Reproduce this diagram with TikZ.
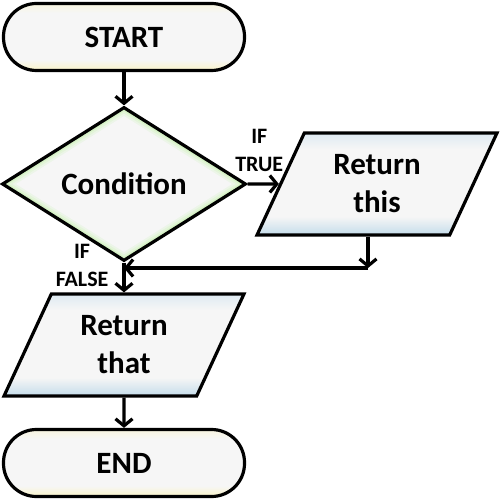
\documentclass[tikz,border=0pt]{standalone}
\usepackage{fontspec}
\setmainfont{Carlito}
\usepackage{tikz}
\usetikzlibrary{calc, arrows.meta, shapes.geometric}
\definecolor{paper}{RGB}{246,246,246}
\definecolor{termrim}{RGB}{250,244,200}
\definecolor{condrim}{RGB}{214,242,198}
\definecolor{iorim}{RGB}{196,220,234}
\definecolor{iotop}{RGB}{222,234,242}
\pgfdeclareverticalshading{termfill}{100bp}{color(0bp)=(termrim); color(25bp)=(termrim); color(33bp)=(paper); color(68bp)=(paper); color(75bp)=(termrim!50!paper); color(100bp)=(termrim!50!paper)}
\pgfdeclareverticalshading{iofill}{100bp}{color(0bp)=(iorim); color(25bp)=(iorim); color(34bp)=(paper); color(67bp)=(paper); color(75bp)=(iotop); color(100bp)=(iotop)}
\tikzstyle{term}=[draw, shading=termfill, rectangle, rounded corners=33pt,
minimum width=241pt, minimum height=67pt, font=\fontsize{31}{36}\selectfont\bfseries]
\tikzstyle{decision}=[draw, fill=condrim, diamond, inner sep=0pt,
minimum width=244pt, minimum height=154pt, font=\fontsize{31}{36}\selectfont\bfseries,
path picture={\foreach \s/\c in {0.95/60,0.92/30,0.89/0}
  \fill[condrim!\c!paper] ($(path picture bounding box.center)!\s!(path picture bounding box.north)$)
    -- ($(path picture bounding box.center)!\s!(path picture bounding box.east)$)
    -- ($(path picture bounding box.center)!\s!(path picture bounding box.south)$)
    -- ($(path picture bounding box.center)!\s!(path picture bounding box.west)$) -- cycle;}]
\tikzstyle{io}=[draw, shading=iofill, trapezium, trapezium left angle=64, trapezium right angle=116,
trapezium stretches, minimum width=240pt, minimum height=102pt, align=center, inner sep=0pt,
font=\fontsize{31}{38}\selectfont\bfseries]
\tikzstyle{branch}=[align=center, inner sep=0pt, font=\fontsize{22}{28}\selectfont\bfseries]

\begin{document}
\begin{tikzpicture}[x=1pt,y=1pt,line width=3.2pt,>={Straight Barb[length=7pt,width=17pt]}]
  \useasboundingbox (0,0) rectangle (500,-502);
  \node [term] (start) at (124,-37) {START};
  \node [decision] (cond) [below of=start, node distance=147pt] {Condition};
  \node [io] (this) [right of=cond, node distance=253pt] {Return\\this};
  \node [io] (that) [below of=cond, node distance=161pt] {Return\\that};
  \node [term] (end) [below of=that, node distance=118pt] {END};
  \node [coordinate] (join) [below of=this, node distance=84pt, xshift=-9pt] {};
  \path[->] (start) edge (cond);
  \path[->] (cond) edge node[branch, above=11pt, xshift=-4pt] {IF\\TRUE} (this);
  \path[->] (cond) edge node[branch, left=14pt, pos=0.1] {IF\\FALSE} (that);
  \draw[->] (this.south -| join) -- (join);
  \draw[->] (join) -- (join -| cond.south);
  \path[->] (that) edge (end);
\end{tikzpicture}
\end{document}
